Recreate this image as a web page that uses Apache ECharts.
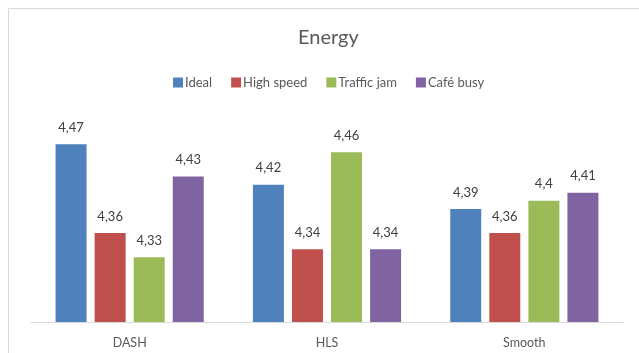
<!DOCTYPE html>
<html>
<head>
<meta charset="utf-8">
<script src="https://cdn.jsdelivr.net/npm/echarts@6/dist/echarts.min.js"></script>
<style>
html,body{margin:0;padding:0;background:#fff;}
#chart{width:639px;height:353px;}
</style>
</head>
<body>
<div id="chart"></div>
<script>
var categories = ['DASH', 'HLS', 'Smooth'];
var seriesNames = ['Ideal', 'High speed', 'Traffic jam', 'Café busy'];
var ideal = [4.47, 4.42, 4.39];
var highSpeed = [4.36, 4.34, 4.36];
var trafficJam = [4.33, 4.46, 4.4];
var cafeBusy = [4.43, 4.34, 4.41];
var colors = ['#4f81bd', '#c0504d', '#9bbb59', '#8064a2'];

var chart = echarts.init(document.getElementById('chart'));
var font = 'Lato, "Open Sans", sans-serif';

function makeSeries(name, data){
    return {
        type: 'bar',
        name: name,
        data: data,
        barWidth: 31,
        barGap: '26%',
        label: {
            show: true,
            position: 'top',
            distance: 10,
            color: '#404040',
            fontSize: 13,
            fontFamily: font,
            formatter: function(p){ return String(p.value).replace('.', ','); }
        }
    };
}

var option = {
    backgroundColor: '#fff',
    color: colors,
    textStyle: { fontFamily: font },
    title: {
        text: 'Energy',
        left: 293,
        top: 23,
        textStyle: { color: '#595959', fontSize: 20, fontWeight: 'normal', fontFamily: font }
    },
    legend: {
        top: 71,
        left: 168,
        itemWidth: 10,
        itemHeight: 10,
        itemGap: 19,
        icon: 'rect',
        textStyle: { color: '#595959', fontSize: 13, fontFamily: font, padding: [0, 0, 0, -3] },
        data: seriesNames
    },
    graphic: [{
        type: 'rect',
        shape: { x: 8.5, y: 8.5, width: 700, height: 400 },
        style: { fill: 'none', stroke: '#d9d9d9', lineWidth: 1 },
        silent: true
    }],
    grid: { left: 31, right: 16, top: 120, bottom: 31 },
    xAxis: {
        type: 'category',
        data: categories,
        axisTick: { show: false },
        axisLine: { lineStyle: { color: '#d9d9d9', width: 1 } },
        axisLabel: { color: '#595959', fontSize: 12.5, margin: 14, fontFamily: font }
    },
    yAxis: {
        type: 'value',
        min: 4.25,
        max: 4.5,
        show: false,
        splitLine: { show: false }
    },
    series: [
        makeSeries(seriesNames[0], ideal),
        makeSeries(seriesNames[1], highSpeed),
        makeSeries(seriesNames[2], trafficJam),
        makeSeries(seriesNames[3], cafeBusy)
    ]
};

chart.setOption(option);
</script>
</body>
</html>
